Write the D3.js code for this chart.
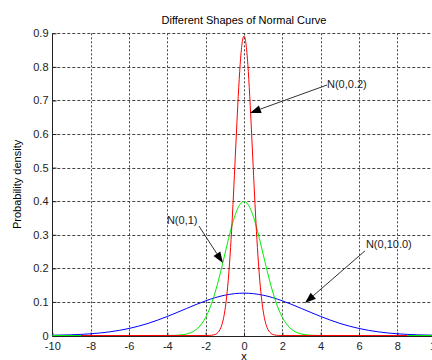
<!DOCTYPE html>
<html><head><meta charset="utf-8">
<script src="https://cdn.jsdelivr.net/npm/d3@7"></script>
<style>
html,body{margin:0;padding:0;background:#fff;overflow:hidden;}
svg{display:block;font-family:"Liberation Sans",Arial,sans-serif;}
</style></head>
<body>
<script>
// ---- data ----
const title = "Different Shapes of Normal Curve";
const xLabel = "x";
const yLabel = "Probability density";
const xTicks = [-10,-8,-6,-4,-2,0,2,4,6,8,10];
const xTickLabels = ["-10","-8","-6","-4","-2","0","2","4","6","8","10"];
const yTicks = [0,0.1,0.2,0.3,0.4,0.5,0.6,0.7,0.8,0.9];
const yTickLabels = ["0","0.1","0.2","0.3","0.4","0.5","0.6","0.7","0.8","0.9"];

// N(0,10.0) - blue
const blueX = [-10,-9,-8,-7,-6,-5,-4,-3,-2,-1,0,1,2,3,4,5,6,7,8,9,10];
const blueY = [0.0009,0.0022,0.0051,0.0109,0.0209,0.0361,0.0567,0.0804,0.1033,0.1200,0.1262,0.1200,0.1033,0.0804,0.0567,0.0361,0.0209,0.0109,0.0051,0.0022,0.0009];

// N(0,1) - green
const greenX = [-10,-5,-4,-3.8,-3.6,-3.4,-3.2,-3,-2.8,-2.6,-2.4,-2.2,-2,-1.8,-1.6,-1.4,-1.2,-1,-0.8,-0.6,-0.4,-0.2,0,0.2,0.4,0.6,0.8,1,1.2,1.4,1.6,1.8,2,2.2,2.4,2.6,2.8,3,3.2,3.4,3.6,3.8,4,5,10];
const greenY = [0,0,0.0001,0.0003,0.0006,0.0012,0.0024,0.0044,0.0079,0.0136,0.0224,0.0355,0.0540,0.0790,0.1109,0.1497,0.1942,0.2420,0.2897,0.3332,0.3683,0.3910,0.3989,0.3910,0.3683,0.3332,0.2897,0.2420,0.1942,0.1497,0.1109,0.0790,0.0540,0.0355,0.0224,0.0136,0.0079,0.0044,0.0024,0.0012,0.0006,0.0003,0.0001,0,0];

// N(0,0.2) - red
const redX = [-8.5,-2,-1.8,-1.6,-1.5,-1.4,-1.3,-1.2,-1.1,-1,-0.9,-0.8,-0.7,-0.6,-0.5,-0.4,-0.3,-0.2,-0.1,0,0.1,0.2,0.3,0.4,0.5,0.6,0.7,0.8,0.9,1,1.1,1.2,1.3,1.4,1.5,1.6,1.8,2,8.5];
const redY = [0,0.00004,0.0003,0.0015,0.0032,0.0066,0.0130,0.0244,0.0433,0.0732,0.1178,0.1801,0.2621,0.3620,0.4775,0.5980,0.7124,0.8072,0.8701,0.8921,0.8701,0.8072,0.7124,0.5980,0.4775,0.3620,0.2621,0.1801,0.1178,0.0732,0.0433,0.0244,0.0130,0.0066,0.0032,0.0015,0.0003,0.00004,0];

// annotations: label, text anchor (data), arrow tail (data), arrow tip (data)
const annLabels = ["N(0,0.2)","N(0,1)","N(0,10.0)"];
const annTextX = [4.33,-4.02,6.36];
const annTextY = [0.737,0.332,0.261];
const annTailX = [4.33,-2.35,6.31];
const annTailY = [0.746,0.326,0.252];
const annTipX  = [0.31,-1.10,3.18];
const annTipY  = [0.663,0.216,0.097];

// ---- drawing ----
const W = 432, H = 360;
const svg = d3.select("body").append("svg").attr("width",W).attr("height",H);
const x = d3.scaleLinear().domain([-10,10]).range([52.3,435.7]);
const y = d3.scaleLinear().domain([0,0.9]).range([335.5,33.3]);

const gridCol = "#444";
// grid
svg.append("g").selectAll("line").data(xTicks.filter(d=>d>-10)).join("line")
  .attr("x1",d=>Math.round(x(d))+0.5).attr("x2",d=>Math.round(x(d))+0.5)
  .attr("y1",y(0.9)).attr("y2",y(0))
  .attr("stroke",gridCol).attr("stroke-width",1).attr("stroke-dasharray","2,2");
svg.append("g").selectAll("line").data(yTicks.filter(d=>d>0)).join("line")
  .attr("y1",d=>Math.round(y(d))+0.5).attr("y2",d=>Math.round(y(d))+0.5)
  .attr("x1",x(-10)).attr("x2",W)
  .attr("stroke",gridCol).attr("stroke-width",1).attr("stroke-dasharray","3,2");

// axes
const xAxis = d3.axisBottom(x).tickValues(xTicks).tickSize(-4).tickPadding(6).tickFormat((d,i)=>xTickLabels[i]);
const yAxis = d3.axisLeft(y).tickValues(yTicks).tickSize(-4).tickPadding(4).tickFormat((d,i)=>yTickLabels[i]);
const gx = svg.append("g").attr("transform",`translate(0,${Math.round(y(0))+0.5})`).call(xAxis);
const gy = svg.append("g").attr("transform",`translate(${Math.round(x(-10))+0.5},0)`).call(yAxis);
[gx,gy].forEach(g=>{
  g.selectAll("path").attr("stroke","#222");
  g.selectAll("line").attr("stroke","#222");
  g.selectAll("text").attr("font-size",11).attr("fill","#222")
   .attr("font-family","'Liberation Sans',Arial,sans-serif");
});
gx.select(".domain").attr("d",`M${x(-10)},0H${W}`);
gy.select(".domain").attr("d",`M0,${y(0.9)}V${y(0)}`);

// curves
const line = d3.line().x(d=>x(d[0])).y(d=>y(d[1]));
const series = [
  {xs:blueX, ys:blueY, color:"#0000ff", curve:d3.curveCatmullRom},
  {xs:greenX, ys:greenY, color:"#00ee00", curve:d3.curveMonotoneX},
  {xs:redX, ys:redY, color:"#ff0000", curve:d3.curveMonotoneX}
];
series.forEach(s=>{
  svg.append("path").datum(d3.zip(s.xs,s.ys))
    .attr("d",line.curve(s.curve))
    .attr("fill","none").attr("stroke",s.color).attr("stroke-width",1);
});

// annotations
annLabels.forEach((lab,i)=>{
  const x1=x(annTailX[i]), y1=y(annTailY[i]), x2=x(annTipX[i]), y2=y(annTipY[i]);
  const ang = Math.atan2(y2-y1,x2-x1);
  const L=11, Wd=4;
  const bx = x2 - L*Math.cos(ang), by = y2 - L*Math.sin(ang);
  svg.append("line").attr("x1",x1).attr("y1",y1).attr("x2",bx).attr("y2",by)
    .attr("stroke","#333").attr("stroke-width",1);
  const p1=[bx + Wd*Math.sin(ang), by - Wd*Math.cos(ang)];
  const p2=[bx - Wd*Math.sin(ang), by + Wd*Math.cos(ang)];
  svg.append("path").attr("d",`M${x2},${y2}L${p1[0]},${p1[1]}L${p2[0]},${p2[1]}Z`)
    .attr("fill","#000");
  svg.append("text").attr("x",x(annTextX[i])).attr("y",y(annTextY[i]))
    .attr("font-size",11).attr("fill","#222").text(lab);
});

// title & labels
svg.append("text").attr("x",x(0)).attr("y",24).attr("text-anchor","middle")
  .attr("font-size",11).attr("fill","#000").text(title);
svg.append("text").attr("x",x(0)).attr("y",360).attr("text-anchor","middle")
  .attr("font-size",11).attr("fill","#000").text(xLabel);
svg.append("text").attr("transform",`translate(21,${(y(0)+y(0.9))/2}) rotate(-90)`)
  .attr("text-anchor","middle").attr("font-size",11).attr("fill","#000").text(yLabel);
</script>
</body></html>
